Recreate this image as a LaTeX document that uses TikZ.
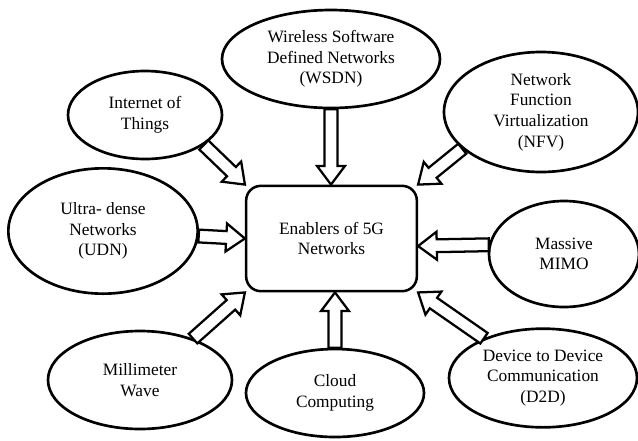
\documentclass[tikz,border=0pt]{standalone}
\usepackage{fontspec}
\setmainfont{Liberation Serif}
\usepackage{tikz}
\usetikzlibrary{calc, shapes.geometric}
\tikzset{
  enabler/.style={draw, ellipse, line width=2pt, inner sep=0pt,
                  align=center, font=\fontsize{13}{15.5}\selectfont},
  hub/.style={draw, rounded corners=11pt, line width=1.9pt, align=center,
              font=\fontsize{13}{15.5}\selectfont},
  fatarrow/.style={draw, line width=1.7pt, fill=white, line join=miter,
    to path={let \p1=(\tikztostart), \p2=(\tikztotarget),
                 \p3=($(\p2)!14pt!(\p1)$) in
      ($(\p1)!4.8pt!90:(\p2)$) -- ($(\p3)!4.8pt!-90:(\p1)$)
      -- ($(\p3)!10.5pt!-90:(\p1)$) -- (\p2) -- ($(\p3)!10.5pt!90:(\p1)$)
      -- ($(\p3)!4.8pt!90:(\p1)$) -- ($(\p1)!4.8pt!-90:(\p2)$) -- cycle}}
}

\begin{document}
\begin{tikzpicture}[x=0.75pt, y=-0.75pt]
      \useasboundingbox (0,0) rectangle (638,440);
      \node[hub, minimum width=128pt, minimum height=79pt] (core) at (331.5,238.5)
        {Enablers of 5G\\Networks};
      \node[enabler, minimum width=163.5pt, minimum height=73.5pt] (wsdn) at (331,59)
        {Wireless Software\\Defined Networks\\(WSDN)};
      \node[enabler, minimum width=115.5pt, minimum height=66pt] (iot) at (145,115)
        {Internet of\\Things};
      \node[enabler, minimum width=145.5pt, minimum height=90pt] (nfv) at (541,112)
        {Network\\Function\\Virtualization\\(NFV)};
      \node[enabler, minimum width=142pt, minimum height=94pt] (udn) at (103,231)
        {Ultra- dense\\Networks\\(UDN)};
      \node[enabler, minimum width=112.5pt, minimum height=79.5pt] (mimo) at (564,254)
        {Massive\\MIMO};
      \node[enabler, minimum width=138pt, minimum height=73.5pt] (mmw) at (140,380)
        {Millimeter\\Wave};
      \node[enabler, minimum width=133.5pt, minimum height=66pt] (cloud) at (335,393)
        {Cloud\\Computing};
      \node[enabler, minimum width=141pt, minimum height=74pt] (d2d) at (543,378)
        {Device to Device\\Communication\\(D2D)};
      \draw[fatarrow] (iot.-27) to (core.north west);
      \draw[fatarrow] (wsdn.south) to (wsdn.south |- core.north);
      \draw[fatarrow] (nfv.205) to (core.north east);
      \draw[fatarrow] (udn.-3) to (core.west);
      \draw[fatarrow] (mimo.173) to (core.-5);
      \draw[fatarrow] (mmw.38) to (core.south west);
      \draw[fatarrow] (cloud.north) to (cloud.north |- core.south);
      \draw[fatarrow] (d2d.146) to (core.south east);
\end{tikzpicture}
\end{document}
